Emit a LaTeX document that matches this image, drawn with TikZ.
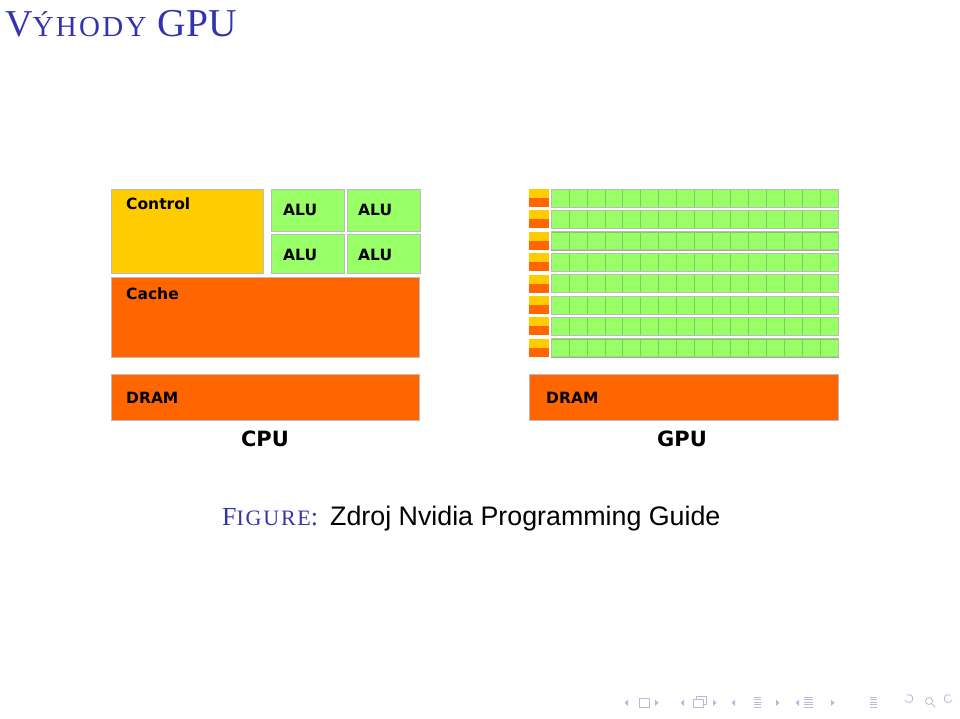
\documentclass[tikz,border=0pt]{standalone}
\usepackage{fontspec}
\usepackage{tikz}
\newfontfamily\blockfont{DejaVu Sans}
\newfontfamily\slidefont{Liberation Serif}
\newfontfamily\slidescfont[LetterSpace=8]{Liberation Serif}
\newfontfamily\capfont{Liberation Sans}
\definecolor{ctrlyellow}{HTML}{FFCC00}
\definecolor{cacheorange}{HTML}{FF6600}
\definecolor{alugreen}{HTML}{99FF66}
\definecolor{boxline}{HTML}{BBBBBB}
\definecolor{cellline}{HTML}{7FCC5A}
\definecolor{slideblue}{rgb}{0.2,0.2,0.7}
\definecolor{navgray}{rgb}{0.72,0.72,0.86}
\newdimen\unitsize
\setlength{\unitsize}{1pt}
\tikzset{
  blk/.style={draw=boxline,line width=1},
  blklabel/.style={font=\blockfont\bfseries\fontsize{15.5}{15.5}\selectfont,
    anchor=base west,inner sep=0},
  chiplabel/.style={font=\blockfont\bfseries\fontsize{21}{21}\selectfont,
    anchor=base,inner sep=0},
  navline/.style={navgray,line width=0.8}
}

\begin{document}
\begin{tikzpicture}[x=\unitsize,y=-\unitsize]
\useasboundingbox (0,0) rectangle (960,718);
\node[anchor=base west,inner sep=0,text=slideblue] (title) at (5,36)
  {\slidefont\fontsize{38}{38}\selectfont V\slidescfont\fontsize{29}{29}\selectfont
   ÝHODY\slidefont\hspace{11pt}\fontsize{39.5}{39.5}\selectfont GPU};
\draw[blk,fill=ctrlyellow] (111,189) rectangle (263,273);
\foreach \alux/\aluy in {271/189,347/189,271/234,347/234}{
  \draw[blk,fill=alugreen] (\alux,\aluy) rectangle ++(73,{\aluy==189 ? 42 : 39});
}
\draw[blk,fill=cacheorange] (111,277) rectangle (419,357);
\draw[blk,fill=cacheorange] (111,374) rectangle (419,420);
\node[blklabel] (control) at (126,209) {Control};
\node[blklabel] (alua) at (283,215) {ALU};
\node[blklabel] (alub) at (358,215) {ALU};
\node[blklabel] (aluc) at (283,260) {ALU};
\node[blklabel] (alud) at (358,260) {ALU};
\node[blklabel] (cache) at (126,299) {Cache};
\node[blklabel] (cpudram) at (126,403) {DRAM};
\node[chiplabel] (cpu) at (265,446) {CPU};
\foreach \gprow in {1,...,8}{
  \pgfmathsetmacro{\gptop}{189+21.4*(\gprow-1)}
  \fill[ctrlyellow] (529,\gptop) rectangle ++(20,9);
  \fill[cacheorange] (529,{\gptop+9}) rectangle ++(20,9);
  \foreach \gpcol in {1,...,16}{
    \draw[cellline,fill=alugreen,line width=0.6]
      ({551+17.94*(\gpcol-1)},\gptop) rectangle ++(17.94,18);
  }
  \draw[boxline,line width=0.8] (551,\gptop) rectangle ++(287,18);
}
\draw[blk,fill=cacheorange] (529,374) rectangle (838,420);
\node[blklabel] (gpudram) at (546,403) {DRAM};
\node[chiplabel] (gpu) at (682,446) {GPU};
\node[anchor=base west,inner sep=0,text=slideblue] (figlabel) at (222,525)
  {\slidefont\fontsize{26}{26}\selectfont F\slidescfont\fontsize{22}{22}\selectfont
   IGURE\slidefont\fontsize{26}{26}\selectfont :};
\node[anchor=base west,inner sep=0] (figtext) at (330,525)
  {\capfont\fontsize{26.8}{26.8}\selectfont Zdroj Nvidia Programming Guide};
\foreach \navx in {626,682,733,797}{
  \fill[navgray] (\navx+2,699.5) -- (\navx-1.5,702.7) -- (\navx+2,706) -- cycle;
}
\foreach \navx in {657,715,778,833}{
  \fill[navgray] (\navx-2,699.5) -- (\navx+1.5,702.7) -- (\navx-2,706) -- cycle;
}
\draw[navline] (639,698) rectangle (649,707);
\draw[navline] (696,696) rectangle (706,704);
\draw[navline,fill=white] (693,699) rectangle (703,707);
\foreach \navx/\navw in {757/3.5,808/4.5,873/3.5}{
  \foreach \navy in {697,699.5,...,708}{
    \draw[navline,line width=0.6] (\navx-\navw,\navy) -- (\navx+\navw,\navy);
  }
}
\draw[navline] (905,700) arc[start angle=160,end angle=-120,radius=4];
\draw[navline] (929,701) circle[radius=3.5];
\draw[navline] (931.5,703.5) -- (935,707);
\draw[navline] (952,700) arc[start angle=20,end angle=300,radius=4];
\end{tikzpicture}
\end{document}
